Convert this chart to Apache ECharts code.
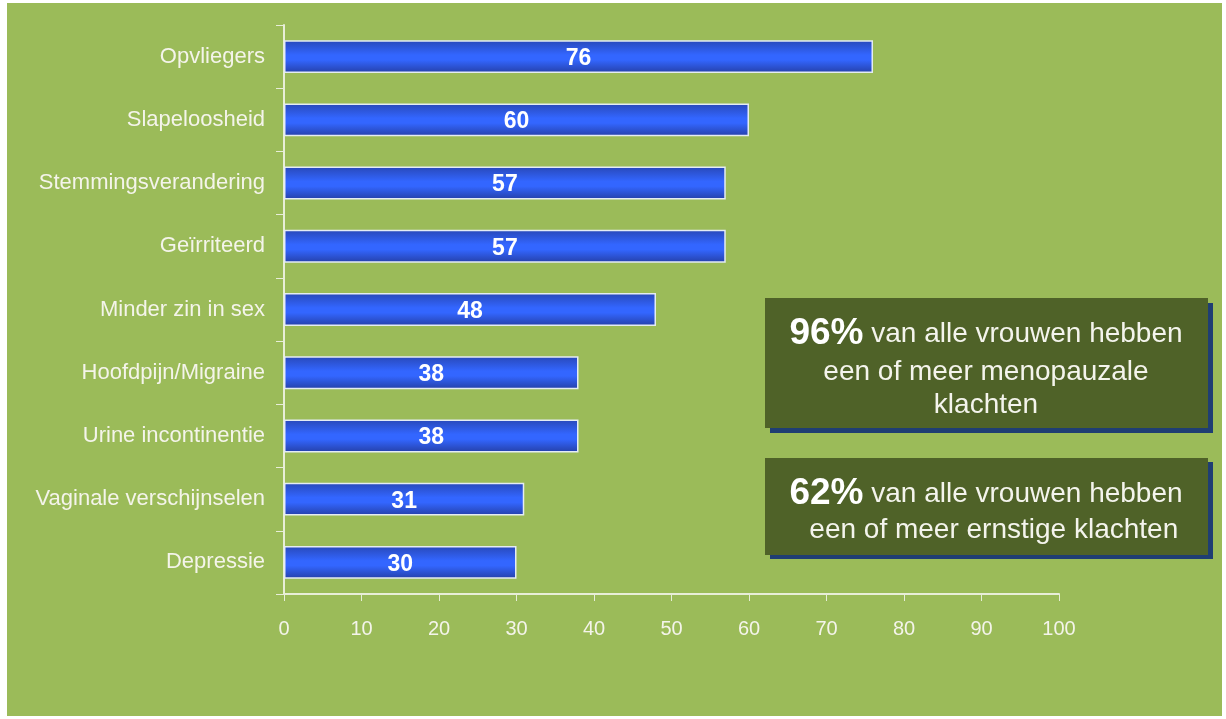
<!DOCTYPE html>
<html>
<head>
<meta charset="utf-8">
<script src="https://cdn.jsdelivr.net/npm/echarts@6/dist/echarts.min.js"></script>
<style>
  html, body { margin: 0; padding: 0; background: #ffffff; }
  #bg { position: absolute; left: 7px; top: 3px; width: 1215px; height: 713px; background: #9bbb59; }
  #chart { position: absolute; left: 0; top: 0; width: 1226px; height: 719px; }
</style>
</head>
<body>
<div id="bg"></div>
<div id="chart"></div>
<script>
const categories = ["Opvliegers", "Slapeloosheid", "Stemmingsverandering", "Geïrriteerd", "Minder zin in sex", "Hoofdpijn/Migraine", "Urine incontinentie", "Vaginale verschijnselen", "Depressie"];
const values = [76, 60, 57, 57, 48, 38, 38, 31, 30];
const xTicks = { min: 0, max: 100, interval: 10 };
const box1Lines = [["96%", " van alle vrouwen hebben"], ["", "een of meer menopauzale"], ["", "klachten"]];
const box2Lines = [["62%", " van alle vrouwen hebben"], ["", "  een of meer ernstige klachten"]];

const chart = echarts.init(document.getElementById('chart'), null, { renderer: 'canvas' });
const axisCol = '#e8eed8';
const txtCol = '#f4f4ea';
const sans = '"Liberation Sans", Arial, sans-serif';

function lineText(parts, x, y) {
  return {
    type: 'text', x: x, y: y, z: 10,
    style: {
      text: (parts[0] ? '{b|' + parts[0] + '}' : '') + '{n|' + parts[1] + '}',
      align: 'center', verticalAlign: 'middle',
      rich: {
        b: { fontFamily: sans, fontWeight: 'bold', fontSize: 37, fill: '#ffffff', color: '#ffffff' },
        n: { fontFamily: sans, fontSize: 28, fill: '#f4f4ec', color: '#f4f4ec' }
      }
    }
  };
}

const graphics = [
  { type: 'rect', shape: { x: 765, y: 298, width: 443, height: 130 }, z: 5,
    style: { fill: '#4f6228', shadowColor: '#1f3e73', shadowOffsetX: 5, shadowOffsetY: 5, shadowBlur: 0 } },
  { type: 'rect', shape: { x: 765, y: 458, width: 443, height: 97 }, z: 5,
    style: { fill: '#4f6228', shadowColor: '#1f3e73', shadowOffsetX: 5, shadowOffsetY: 4, shadowBlur: 0 } },
  lineText(box1Lines[0], 986, 334),
  lineText(box1Lines[1], 986, 372),
  lineText(box1Lines[2], 986, 405),
  lineText(box2Lines[0], 986, 494),
  lineText(box2Lines[1], 986, 530)
];

chart.setOption({
  animation: false,
  backgroundColor: 'transparent',
  grid: { left: 284, top: 25, right: 167, bottom: 125, containLabel: false, outerBoundsMode: 'none' },
  xAxis: {
    type: 'value', min: xTicks.min, max: xTicks.max, interval: xTicks.interval,
    axisLine: { show: true, lineStyle: { color: axisCol, width: 2 } },
    axisTick: { show: true, length: 7, lineStyle: { color: axisCol, width: 1 } },
    splitLine: { show: false },
    axisLabel: { color: txtCol, fontFamily: sans, fontSize: 20, margin: 25 }
  },
  yAxis: {
    type: 'category', data: categories, inverse: true,
    axisLine: { show: true, lineStyle: { color: axisCol, width: 2 } },
    axisTick: { show: true, length: 8, lineStyle: { color: axisCol, width: 1 } },
    axisLabel: { color: txtCol, fontFamily: sans, fontSize: 22, margin: 19 }
  },
  series: [{
    type: 'bar', data: values, barWidth: '52%',
    itemStyle: {
      color: new echarts.graphic.LinearGradient(0, 0, 0, 1, [
        { offset: 0, color: '#2848b8' },
        { offset: 0.45, color: '#3366ff' },
        { offset: 0.6, color: '#3366ff' },
        { offset: 1, color: '#2540a8' }
      ]),
      borderColor: '#e4ecf4', borderWidth: 1.5
    },
    label: { show: true, position: 'inside', color: '#ffffff', fontFamily: sans, fontWeight: 'bold', fontSize: 23, offset: [0, 2] }
  }],
  graphic: graphics
});
</script>
</body>
</html>
